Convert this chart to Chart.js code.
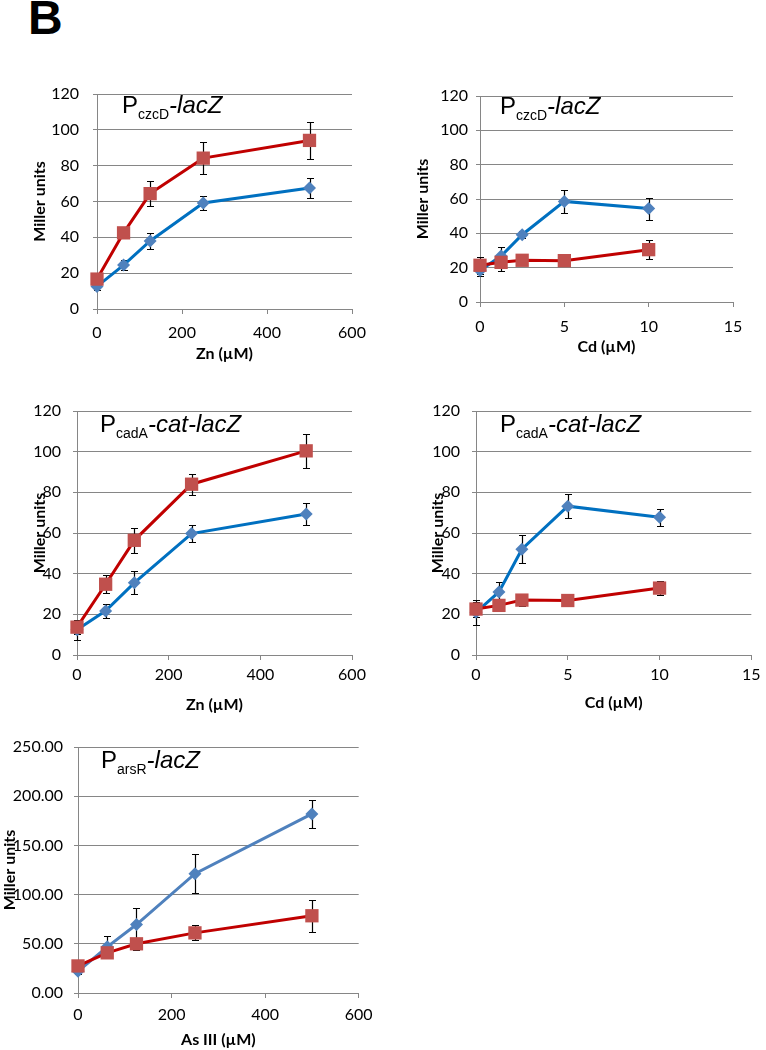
<!DOCTYPE html>
<html>
<head>
<meta charset="utf-8">
<script src="https://cdn.jsdelivr.net/npm/chart.js@4.4.1/dist/chart.umd.min.js"></script>
<style>
  body { margin: 0; background: #fff; width: 766px; height: 1050px; position: relative; overflow: hidden; }
  .panel { position: absolute; }
  #letter { position: absolute; left: 28px; top: -6px; font: bold 48px "Liberation Sans", Arial, sans-serif; line-height: 48px; color: #000; }
</style>
</head>
<body>
<div id="letter">B</div>
<canvas class="panel" id="c1"></canvas>
<canvas class="panel" id="c2"></canvas>
<canvas class="panel" id="c3"></canvas>
<canvas class="panel" id="c4"></canvas>
<canvas class="panel" id="c5"></canvas>
<script>
// concentrations
const znDoses = [0, 62.5, 125, 250, 500];
const cdDoses = [0, 1.25, 2.5, 5, 10];
const asDoses = [0, 62.5, 125, 250, 500];

// PczcD-lacZ, Zn
const czcZnRed = [16.7, 42.5, 64.4, 84.2, 94.1];
const czcZnRedErr = [1.5, 1.5, 7, 9, 10.3];
const czcZnBlue = [12.6, 24.5, 38, 59.2, 67.5];
const czcZnBlueErr = [2, 3, 4.3, 4, 5.5];

// PczcD-lacZ, Cd
const czcCdRed = [21.4, 23.1, 24.3, 24.1, 30.5];
const czcCdRedErr = [5, 5, 1.5, 1.5, 5.6];
const czcCdBlue = [18.4, 26.8, 39.2, 58.6, 54.4];
const czcCdBlueErr = [3, 5, 2, 6.5, 6.4];

// PcadA-cat-lacZ, Zn
const cadZnRed = [13.7, 34.8, 56.4, 84, 100.4];
const cadZnRedErr = [3.5, 4.5, 6.2, 5.2, 8.5];
const cadZnBlue = [12.4, 21.7, 35.5, 59.7, 69.3];
const cadZnBlueErr = [5, 3.3, 5.7, 4, 5.4];

// PcadA-cat-lacZ, Cd
const cadCdRed = [22.6, 24.4, 27, 26.8, 32.9];
const cadCdRedErr = [3.7, 1.5, 3, 1.5, 3.5];
const cadCdBlue = [21, 31, 52, 73.2, 67.7];
const cadCdBlueErr = [6, 5, 6.9, 6, 4.3];

// ParsR-lacZ, As III
const arsRed = [27.5, 40.8, 50, 61.1, 78.5];
const arsRedErr = [2, 5, 6, 7.5, 16];
const arsBlue = [22, 46.9, 69.6, 121.3, 182];
const arsBlueErr = [3, 11, 16.5, 20, 14];

const RED_LINE = '#C00000', RED_MARK = '#C0504D';
const BLUE_LINE = '#0070C0', BLUE_MARK = '#4F81BD';
const GRID = '#868686';
const TICK_FONT = { family: 'Lato', size: 16 };
const TITLE_FONT = { family: 'Lato', size: 16, weight: 'bold' };

const errorBars = {
  id: 'errorBars',
  beforeDatasetsDraw(chart) {
    const ctx = chart.ctx;
    const xs = chart.scales.x, ys = chart.scales.y;
    ctx.save();
    ctx.strokeStyle = '#000';
    ctx.lineWidth = 1.2;
    chart.data.datasets.forEach(ds => {
      ds.data.forEach((pt, i) => {
        const e = ds.errors[i];
        const px = Math.round(xs.getPixelForValue(pt.x)) + 0.5;
        const top = Math.round(ys.getPixelForValue(pt.y + e)) + 0.5;
        const bot = Math.round(ys.getPixelForValue(pt.y - e)) + 0.5;
        ctx.beginPath();
        ctx.moveTo(px, top); ctx.lineTo(px, bot);
        ctx.moveTo(px - 3.5, top); ctx.lineTo(px + 3.5, top);
        ctx.moveTo(px - 3.5, bot); ctx.lineTo(px + 3.5, bot);
        ctx.stroke();
      });
    });
    ctx.restore();
  }
};

const promoterLabel = {
  id: 'promoterLabel',
  afterDraw(chart, args, opts) {
    const ctx = chart.ctx;
    const a = chart.chartArea;
    let x = a.left + opts.dx;
    const y = a.top + opts.dy;
    ctx.save();
    ctx.fillStyle = '#000';
    ctx.textBaseline = 'alphabetic';
    ctx.textAlign = 'left';
    ctx.font = '24px "Liberation Sans", Arial, sans-serif';
    ctx.fillText('P', x, y);
    x += ctx.measureText('P').width;
    ctx.font = '14px "Liberation Sans", Arial, sans-serif';
    ctx.fillText(opts.sub, x, y + 6);
    x += ctx.measureText(opts.sub).width;
    ctx.font = 'italic 24px "Liberation Sans", Arial, sans-serif';
    ctx.fillText(opts.rest, x, y);
    ctx.restore();
  }
};

function pts(xs, ys) {
  return xs.map((x, i) => ({ x: x, y: ys[i] }));
}

function makePanel(p) {
  const canvas = document.getElementById(p.id);
  canvas.width = p.box.w;
  canvas.height = p.box.h;
  canvas.style.left = p.box.x + 'px';
  canvas.style.top = p.box.y + 'px';
  canvas.style.width = p.box.w + 'px';
  canvas.style.height = p.box.h + 'px';

  const titleLH = TITLE_FONT.size * 1.2;
  const tickLH = TICK_FONT.size * 1.2;

  new Chart(canvas, {
    type: 'line',
    data: {
      datasets: [
        {
          data: pts(p.doses, p.red), errors: p.redErr,
          borderColor: RED_LINE, borderWidth: 3,
          pointStyle: 'rect', pointRadius: 9.4, pointHoverRadius: 9.4,
          pointBackgroundColor: RED_MARK, pointBorderColor: RED_MARK, pointBorderWidth: 0,
          tension: 0, clip: false
        },
        {
          data: pts(p.doses, p.blue), errors: p.blueErr,
          borderColor: p.blueLine, borderWidth: 3,
          pointStyle: 'rectRot', pointRadius: 6.5, pointHoverRadius: 6.5,
          pointBackgroundColor: BLUE_MARK, pointBorderColor: BLUE_MARK, pointBorderWidth: 0,
          tension: 0, clip: false
        }
      ]
    },
    options: {
      responsive: false,
      animation: false,
      events: [],
      layout: {
        padding: {
          left: 0,
          top: p.area.t - p.box.y,
          right: p.box.x + p.box.w - p.area.r,
          bottom: 0
        }
      },
      plugins: {
        legend: { display: false },
        tooltip: { enabled: false },
        promoterLabel: { sub: p.sub, rest: p.rest, dx: p.labelDx, dy: p.labelDy }
      },
      scales: {
        x: {
          type: 'linear',
          min: 0, max: p.xMax,
          ticks: { stepSize: p.xStep, font: TICK_FONT, color: '#000', padding: p.xTickY - p.area.b - 5 - tickLH / 2, maxRotation: 0 },
          grid: { drawOnChartArea: false, drawTicks: true, tickLength: 5, color: GRID },
          border: { display: true, color: GRID, width: 1 },
          title: {
            display: true, text: p.xTitle, font: TITLE_FONT, color: '#000',
            padding: { top: 0, bottom: p.box.y + p.box.h - p.xTitleY - titleLH / 2 }
          },
          afterFit(scale) { scale.height = p.box.y + p.box.h - p.area.b; }
        },
        y: {
          min: 0, max: p.yMax,
          ticks: {
            stepSize: p.yStep, font: TICK_FONT, color: '#000', padding: p.yTickGap - 4,
            callback: v => p.yDecimals ? v.toFixed(2) : String(v)
          },
          grid: { color: GRID, tickLength: 4, lineWidth: 1 },
          border: { display: true, color: GRID, width: 1 },
          title: {
            display: true, text: 'Miller units', font: TITLE_FONT, color: '#000',
            padding: { top: p.yTitleX - p.box.x - titleLH / 2, bottom: 0 }
          },
          afterFit(scale) { scale.width = p.area.l - p.box.x; }
        }
      }
    },
    plugins: [errorBars, promoterLabel]
  });
}

makePanel({
  id: 'c1', box: { x: 0, y: 60, w: 380, h: 310 }, area: { l: 97, t: 94, r: 352, b: 309 },
  yTickGap: 18, yTitleX: 40, xTickY: 333, xTitleY: 354,
  doses: znDoses, red: czcZnRed, redErr: czcZnRedErr, blue: czcZnBlue, blueErr: czcZnBlueErr,
  blueLine: BLUE_LINE, xMax: 600, xStep: 200, yMax: 120, yStep: 20, xTitle: 'Zn (µM)',
  sub: 'czcD', rest: '-lacZ', labelDx: 25, labelDy: 19
});

makePanel({
  id: 'c2', box: { x: 380, y: 60, w: 386, h: 300 }, area: { l: 480, t: 96, r: 733, b: 302 },
  yTickGap: 12, yTitleX: 423, xTickY: 327, xTitleY: 347,
  doses: cdDoses, red: czcCdRed, redErr: czcCdRedErr, blue: czcCdBlue, blueErr: czcCdBlueErr,
  blueLine: BLUE_LINE, xMax: 15, xStep: 5, yMax: 120, yStep: 20, xTitle: 'Cd (µM)',
  sub: 'czcD', rest: '-lacZ', labelDx: 20, labelDy: 18
});

makePanel({
  id: 'c3', box: { x: 0, y: 375, w: 380, h: 340 }, area: { l: 77, t: 411, r: 352, b: 655 },
  yTickGap: 16, yTitleX: 40, xTickY: 675, xTitleY: 705,
  doses: znDoses, red: cadZnRed, redErr: cadZnRedErr, blue: cadZnBlue, blueErr: cadZnBlueErr,
  blueLine: BLUE_LINE, xMax: 600, xStep: 200, yMax: 120, yStep: 20, xTitle: 'Zn (µM)',
  sub: 'cadA', rest: '-cat-lacZ', labelDx: 23, labelDy: 21
});

makePanel({
  id: 'c4', box: { x: 380, y: 375, w: 386, h: 340 }, area: { l: 476, t: 411, r: 756, b: 655 },
  yTickGap: 16, yTitleX: 438, xTickY: 675, xTitleY: 703,
  doses: cdDoses, red: cadCdRed, redErr: cadCdRedErr, blue: cadCdBlue, blueErr: cadCdBlueErr,
  blueLine: BLUE_LINE, xMax: 15, xStep: 5, yMax: 120, yStep: 20, xTitle: 'Cd (µM)',
  sub: 'cadA', rest: '-cat-lacZ', labelDx: 24, labelDy: 21
});

makePanel({
  id: 'c5', box: { x: 0, y: 715, w: 380, h: 335 }, area: { l: 78, t: 747, r: 363, b: 993 },
  yTickGap: 15, yTitleX: 10, xTickY: 1015, xTitleY: 1040,
  doses: asDoses, red: arsRed, redErr: arsRedErr, blue: arsBlue, blueErr: arsBlueErr,
  blueLine: BLUE_MARK, xMax: 600, xStep: 200, yMax: 250, yStep: 50, yDecimals: true, xTitle: 'As III (µM)',
  sub: 'arsR', rest: '-lacZ', labelDx: 23, labelDy: 21
});
</script>
</body>
</html>
